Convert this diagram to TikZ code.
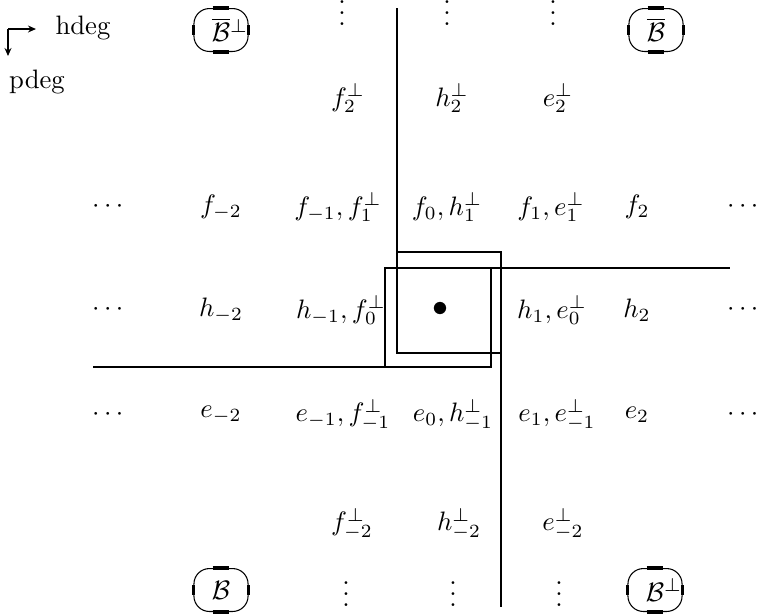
\documentclass[tikz,border=0pt]{standalone}
\usepackage{amsmath, amssymb, mathtools}
\usepackage{tikz}
\usetikzlibrary{arrows.meta}

\newcommand{\tightvdots}{\vbox{\baselineskip4pt\lineskiplimit0pt
  \hbox{.}\hbox{.}\hbox{.}}}

\tikzset{
  wall/.style={line width=0.8pt},
  entry/.style={inner sep=0pt},
  basis/.style={draw, line width=0.4pt, rounded corners=5.8pt,
    minimum width=20.3pt, minimum height=16.1pt, inner sep=0pt},
}

\begin{document}
\begin{tikzpicture}[>=Stealth, x=0.375pt, y=-0.375pt]
  \useasboundingbox (0,0) rectangle (762,613);
  % degree directions
  \coordinate (o) at (8,29);
  \coordinate (hd) at (36,29);
  \coordinate (pd) at (8,56);
  \draw[-{Stealth[length=3pt, width=2.6pt]}, line width=0.6pt] (o) -- (hd);
  \draw[-{Stealth[length=3pt, width=2.6pt]}, line width=0.6pt] (o) -- (pd);
  \node (hdeg) at (83,28) {hdeg};
  \node (pdeg) at (37,82) {pdeg};
  % the four bases
  \node[basis] (bbp) at (221,30) {$\overline{\mathcal{B}}\mathrlap{^{\perp}}$};
  \node[basis] (bb) at (656,30) {$\overline{\mathcal{B}}$};
  \node[basis] (b) at (221,590) {$\mathcal{B}$};
  \node[basis] (bp) at (655,590) {$\mathcal{B}\mathrlap{^{\perp}}$};
  \foreach \n in {bbp, bb, b, bp} {
    \draw[line width=1.2pt] ([xshift=-3.1pt]\n.north) -- ([xshift=3.1pt]\n.north);
    \draw[line width=1.2pt] ([xshift=-3.1pt]\n.south) -- ([xshift=3.1pt]\n.south);
    \draw[line width=1.2pt] ([yshift=-1.8pt]\n.west) -- ([yshift=1.8pt]\n.west);
    \draw[line width=1.2pt] ([yshift=-1.8pt]\n.east) -- ([yshift=1.8pt]\n.east);
  }
  % vertical dots
  \foreach \x [count=\i] in {342,447,553}
    \node[entry, anchor=base] (up\i) at (\x,25) {\tightvdots};
  \foreach \x [count=\i] in {346,453,559}
    \node[entry, anchor=base] (dn\i) at (\x,606) {\tightvdots};
  % rows
  \foreach \x/\t [count=\i] in {348/f_2^{\perp}, 452/h_2^{\perp}, 558/e_2^{\perp}}
    \node[entry] (pt\i) at (\x,98) {$\t$};
  \foreach \x/\t [count=\i] in {110/\cdots, 221/f_{-2}, 338/{f_{-1}, f_1^{\perp}},
      447/{f_0, h_1^{\perp}}, 551/{f_1, e_1^{\perp}}, 637/f_2, 745/\cdots}
    \node[entry] (f\i) at (\x,207) {$\t$};
  \foreach \x/\t [count=\i] in {110/\cdots, 221/h_{-2}, 341/{h_{-1}, f_0^{\perp}},
      552/{h_1, e_0^{\perp}}, 637/h_2, 745/\cdots}
    \node[entry] (h\i) at (\x,310) {$\t$};
  \node[entry, font=\large] (dot) at (440,309) {$\bullet$};
  \foreach \x/\t [count=\i] in {110/\cdots, 221/e_{-2}, 343/{e_{-1}, f_{-1}^{\perp}},
      453/{e_0, h_{-1}^{\perp}}, 557/{e_1, e_{-1}^{\perp}}, 637/e_2, 745/\cdots}
    \node[entry] (e\i) at (\x,415) {$\t$};
  \foreach \x/\t [count=\i] in {352/f_{-2}^{\perp}, 459/h_{-2}^{\perp}, 563/e_{-2}^{\perp}}
    \node[entry] (pb\i) at (\x,524) {$\t$};
  % walls
  \draw[wall] (397,8) -- (397,353) -- (501,353);
  \draw[wall] (397,252) -- (501,252) -- (501,607);
  \draw[wall] (93,367) -- (491,367) -- (491,268);
  \draw[wall] (385,367) -- (385,268) -- (730,268);
\end{tikzpicture}
\end{document}
